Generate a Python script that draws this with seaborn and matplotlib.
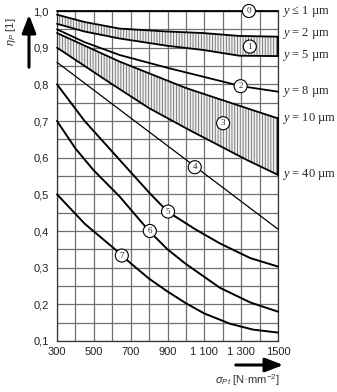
import matplotlib
matplotlib.use("Agg")
import matplotlib.pyplot as plt
import seaborn as sns
import numpy as np
import pandas as pd

# Contact-pressure utilisation factor eta_P versus stress sigma_Pt
curve0_sigma = [300, 1500]
curve0_eta = [1.0, 1.0]

band1_upper_sigma = [300, 450, 640, 900, 1090, 1290, 1500]
band1_upper_eta = [0.99, 0.97, 0.952, 0.944, 0.94, 0.932, 0.93]
band1_lower_sigma = [300, 450, 640, 900, 1090, 1290, 1500]
band1_lower_eta = [0.965, 0.944, 0.925, 0.905, 0.894, 0.878, 0.877]

curve2_sigma = [300, 450, 640, 900, 1100, 1300, 1500]
curve2_eta = [0.95, 0.915, 0.88, 0.845, 0.82, 0.795, 0.78]

band3_upper_sigma = [300, 640, 1000, 1300, 1500]
band3_upper_eta = [0.94, 0.862, 0.79, 0.74, 0.707]
band3_lower_sigma = [300, 600, 800, 1020, 1330, 1500]
band3_lower_eta = [0.90, 0.80, 0.735, 0.675, 0.594, 0.553]

curve4_sigma = [300, 1500]
curve4_eta = [0.86, 0.405]

curve5_sigma = [300, 450, 640, 800, 900, 1050, 1185, 1350, 1500]
curve5_eta = [0.80, 0.70, 0.594, 0.505, 0.453, 0.405, 0.366, 0.326, 0.303]

curve6_sigma = [300, 400, 500, 640, 800, 900, 1000, 1185, 1350, 1500]
curve6_eta = [0.70, 0.625, 0.565, 0.494, 0.40, 0.35, 0.31, 0.245, 0.205, 0.18]

curve7_sigma = [300, 450, 620, 700, 800, 900, 1000, 1100, 1240, 1365, 1500]
curve7_eta = [0.50, 0.42, 0.348, 0.312, 0.27, 0.235, 0.203, 0.175, 0.147, 0.131, 0.123]

# circled curve numbers and where they sit
marker_names = ["0", "1", "2", "3", "4", "5", "6", "7"]
marker_sigma = [1342, 1347, 1297, 1202, 1048, 903, 804, 652]
marker_eta = [1.0, 0.903, 0.795, 0.694, 0.574, 0.453, 0.40, 0.333]

# roughness labels at the right edge
right_labels = [r"$y$ ≤ 1 µm", r"$y$ = 2 µm", r"$y$ = 5 µm", r"$y$ = 8 µm",
                r"$y$ = 10 µm", r"$y$ = 40 µm"]
right_eta = [1.0, 0.94, 0.88, 0.78, 0.707, 0.553]

x_ticks = [300, 500, 700, 900, 1100, 1300, 1500]
x_ticklabels = ["300", "500", "700", "900", "1 100", "1 300", "1500"]
y_ticks = [0.1, 0.2, 0.3, 0.4, 0.5, 0.6, 0.7, 0.8, 0.9, 1.0]
y_ticklabels = ["0,1", "0,2", "0,3", "0,4", "0,5", "0,6", "0,7", "0,8", "0,9", "1,0"]

sns.set_theme(style="white")
plt.rcParams["font.family"] = ["Liberation Sans", "DejaVu Sans"]
plt.rcParams["mathtext.fontset"] = "custom"
plt.rcParams["mathtext.it"] = "Liberation Serif:italic"
plt.rcParams["mathtext.rm"] = "Liberation Sans"
plt.rcParams["mathtext.sf"] = "Liberation Sans:italic"
plt.rcParams["hatch.linewidth"] = 0.6

W, H = 337, 392
fig = plt.figure(figsize=(W / 100, H / 100), dpi=100)
fig.patch.set_facecolor("white")
ax = fig.add_axes([57 / W, 1 - 341 / H, (278 - 57) / W, (341 - 11) / H])

ax.set_xlim(300, 1500)
ax.set_ylim(0.1, 1.0)
ax.set_xticks(x_ticks)
ax.set_xticklabels(x_ticklabels)
ax.set_xticks(np.arange(300, 1501, 100), minor=True)
ax.set_yticks(y_ticks)
ax.set_yticklabels(y_ticklabels)
ax.set_yticks(np.arange(0.1, 1.001, 0.05), minor=True)
ax.grid(True, which="both", color="#707070", linewidth=0.9)
ax.tick_params(which="both", length=0, labelsize=8, labelcolor="#222222")
ax.tick_params(axis="x", pad=4)
ax.tick_params(axis="y", pad=6)
for s in ax.spines.values():
    s.set_color("#333333")
    s.set_linewidth(0.9)
ax.set_axisbelow(True)

# hatched bands
def band(sx_u, ey_u, sx_l, ey_l):
    xs = np.array(sorted(set(sx_u) | set(sx_l)), dtype=float)
    up = np.interp(xs, sx_u, ey_u)
    lo = np.interp(xs, sx_l, ey_l)
    ax.fill_between(xs, lo, up, facecolor="#eeeeee", edgecolor="#6e6e6e",
                    hatch="||||||", linewidth=0, zorder=2)

band(band1_upper_sigma, band1_upper_eta, band1_lower_sigma, band1_lower_eta)
band(band3_upper_sigma, band3_upper_eta, band3_lower_sigma, band3_lower_eta)

curves = [
    (curve0_sigma, curve0_eta, 1.3),
    (band1_upper_sigma, band1_upper_eta, 1.3),
    (band1_lower_sigma, band1_lower_eta, 1.3),
    (curve2_sigma, curve2_eta, 1.3),
    (band3_upper_sigma, band3_upper_eta, 1.3),
    (band3_lower_sigma, band3_lower_eta, 1.3),
    (curve4_sigma, curve4_eta, 0.9),
    (curve5_sigma, curve5_eta, 1.4),
    (curve6_sigma, curve6_eta, 1.4),
    (curve7_sigma, curve7_eta, 1.4),
]
for sx, ey, lw in curves:
    df = pd.DataFrame({"sigma": sx, "eta": ey})
    sns.lineplot(data=df, x="sigma", y="eta", ax=ax, color="black",
                 linewidth=lw, sort=False, estimator=None, zorder=3,
                 clip_on=False)
# right border line of the hatched areas
ax.plot([1500, 1500], [band1_lower_eta[-1], band1_upper_eta[-1]], color="black", lw=1.3, zorder=3, clip_on=False)
ax.plot([1500, 1500], [band3_lower_eta[-1], band3_upper_eta[-1]], color="black", lw=1.3, zorder=3, clip_on=False)

ax.set_xlabel("")
ax.set_ylabel("")

for name, sx, ey in zip(marker_names, marker_sigma, marker_eta):
    ax.text(sx, ey, name, ha="center", va="center", fontsize=6.5,
            family="Liberation Serif", zorder=5, clip_on=False,
            bbox=dict(boxstyle="circle,pad=0.28", fc="white", ec="black", lw=0.8))

for lab, ey in zip(right_labels, right_eta):
    ax.annotate(lab, xy=(1.0, ey), xycoords=("axes fraction", "data"),
                xytext=(3, 0), textcoords="offset points", ha="left",
                va="center", fontsize=9, family="Liberation Serif")

# axis captions with arrows
fig.text(11 / W, 1 - 32 / H, r"$\mathsf{\eta_P}$ [1]", rotation=90, ha="center",
         va="center", fontsize=8, color="#333333")
ax.annotate("", xy=(29, H - 12), xycoords="figure pixels",
            xytext=(29, H - 70), textcoords="figure pixels",
            arrowprops=dict(arrowstyle="-|>,head_length=0.9,head_width=0.35",
                            color="black", lw=2.2))
ax.annotate("", xy=(286, H - 365), xycoords="figure pixels",
            xytext=(233, H - 365), textcoords="figure pixels",
            arrowprops=dict(arrowstyle="-|>,head_length=0.9,head_width=0.35",
                            color="black", lw=2.2))
fig.text(247 / W, 1 - 380 / H, r"$\mathsf{\sigma_{Pt}}$ [N·mm$^{-2}$]", ha="center",
         va="center", fontsize=8, color="#333333")

fig.savefig("out.png", dpi=100, facecolor="white")
